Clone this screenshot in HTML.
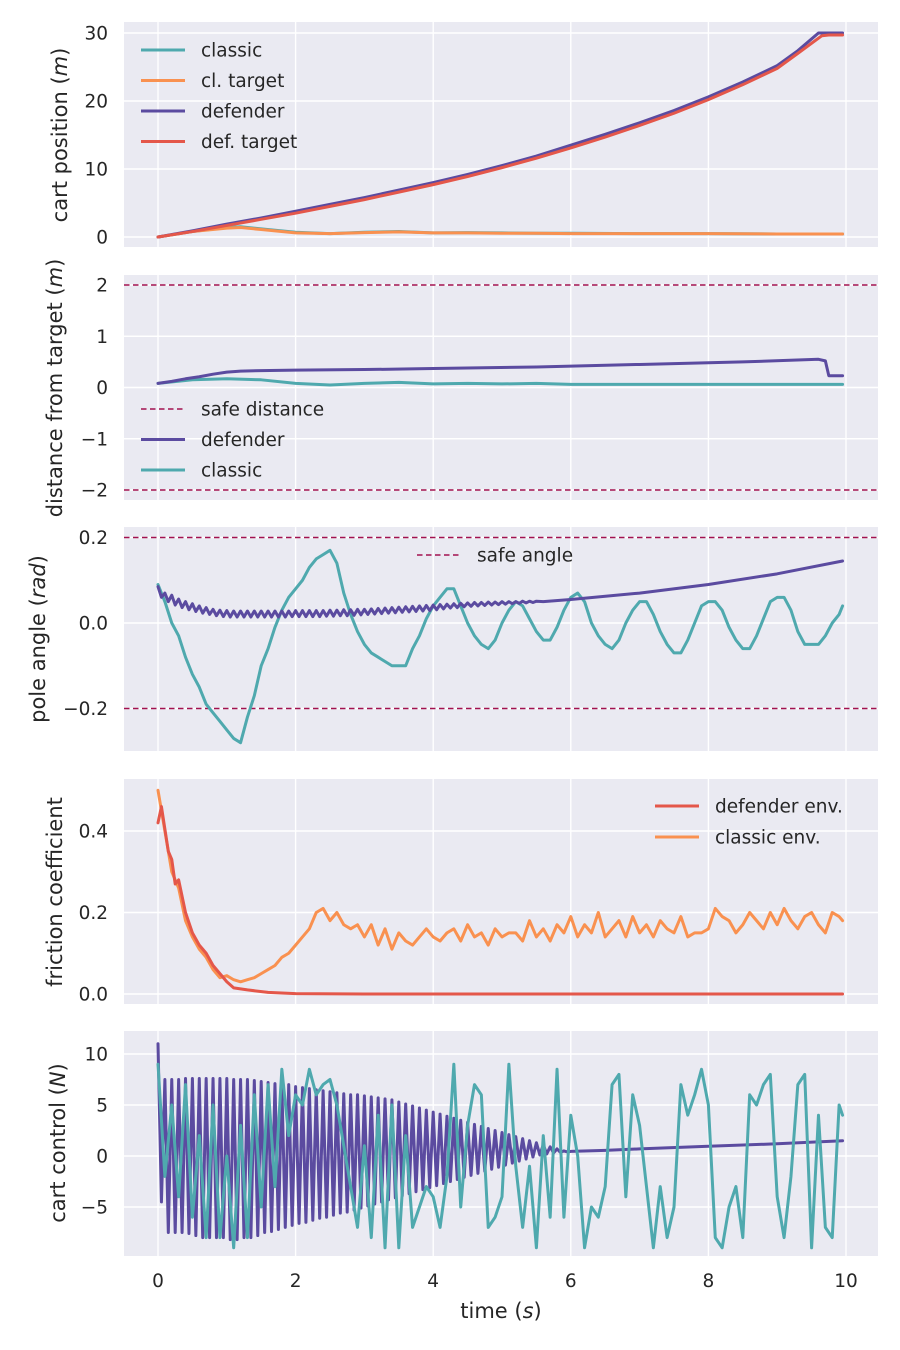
<!DOCTYPE html>
<html><head><meta charset="utf-8">
<style>
html,body{margin:0;padding:0;background:#fff;}
svg{display:block;font-family:"DejaVu Sans","Liberation Sans",sans-serif;}
</style></head>
<body>
<svg id="fig" width="900" height="1350" xmlns="http://www.w3.org/2000/svg"></svg>
<script>
// ---------- DATA ----------
const xTicks = [0,2,4,6,8,10];
// panel 1: cart position
const posDefT = [0,0.5,1,1.5,2,2.5,3,3.5,4,4.5,5,5.5,6,6.5,7,7.5,8,8.5,9,9.3,9.6,9.7,9.95];
const posDef  = [0,0.9,1.9,2.8,3.8,4.8,5.8,6.9,8.0,9.2,10.5,11.9,13.5,15.1,16.8,18.6,20.6,22.8,25.2,27.4,30.0,30.0,30.0];
const posDefTgtT = [0,0.5,1,1.5,2,2.5,3,3.5,4,4.5,5,5.5,6,6.5,7,7.5,8,8.5,9,9.3,9.65,9.75,9.95];
const posDefTgt  = [0,0.8,1.7,2.6,3.5,4.5,5.5,6.6,7.7,8.9,10.2,11.6,13.1,14.7,16.4,18.2,20.2,22.4,24.8,27.0,29.6,29.7,29.7];
const posClsT = [0,0.5,1,1.2,1.5,2,2.5,3,3.5,4,4.5,5,5.5,6,7,8,9,9.95];
const posCls  = [0,0.8,1.4,1.5,1.2,0.7,0.5,0.7,0.8,0.6,0.65,0.6,0.55,0.55,0.5,0.5,0.45,0.45];
const posClsTgt = [0,0.8,1.3,1.4,1.1,0.6,0.5,0.65,0.75,0.6,0.6,0.55,0.55,0.5,0.5,0.5,0.45,0.45];
// panel 2: distance from target
const distDefT = [0,0.2,0.4,0.6,0.8,1.0,1.2,1.5,2,3,4,5.5,7,8.5,9.6,9.7,9.75,9.95];
const distDef  = [0.08,0.12,0.17,0.21,0.26,0.3,0.32,0.33,0.34,0.35,0.37,0.4,0.45,0.5,0.55,0.52,0.23,0.23];
const distClsT = [0,0.5,1,1.5,2,2.5,3,3.5,4,4.5,5,5.5,6,7,8,9,9.95];
const distCls  = [0.08,0.15,0.17,0.15,0.08,0.05,0.08,0.1,0.07,0.08,0.07,0.08,0.06,0.06,0.06,0.06,0.06];
// panel 3: pole angle
const angCls = [0.09,0.05,0.0,-0.03,-0.08,-0.12,-0.15,-0.19,-0.21,-0.23,-0.25,-0.27,-0.28,-0.22,-0.17,-0.1,-0.06,-0.01,0.03,0.06,
0.08,0.1,0.13,0.15,0.16,0.17,0.14,0.07,0.02,-0.02,-0.05,-0.07,-0.08,-0.09,-0.1,-0.1,-0.1,-0.06,-0.03,0.01,
0.04,0.06,0.08,0.08,0.04,0.0,-0.03,-0.05,-0.06,-0.04,0.0,0.03,0.05,0.04,0.01,-0.02,-0.04,-0.04,-0.01,0.03,
0.06,0.07,0.05,0.0,-0.03,-0.05,-0.06,-0.04,0.0,0.03,0.05,0.05,0.02,-0.02,-0.05,-0.07,-0.07,-0.04,0.0,0.04,
0.05,0.05,0.03,-0.01,-0.04,-0.06,-0.06,-0.03,0.01,0.05,0.06,0.06,0.03,-0.02,-0.05,-0.05,-0.05,-0.03,0.0,0.02,0.04];
const angDefZig = [0.085,0.06,0.07,0.05,0.065,0.042,0.056,0.036,0.05,0.031,0.045,0.027,0.04,0.023,0.036,0.02,0.032,0.017,0.03,0.015,0.029,0.014,
0.028,0.014,0.028,0.014,0.028,0.014,0.028,0.014,0.028,0.014,0.028,0.014,0.028,0.014,0.028,0.014,0.028,0.015,0.029,0.015,0.029,0.015,0.029,0.015,0.029,0.015,0.029,0.016,
0.03,0.016,0.03,0.017,0.031,0.017,0.031,0.018,0.032,0.019,0.032,0.02,0.033,0.021,0.034,0.022,0.035,0.023,0.036,0.024,0.037,0.025,0.038,0.026,0.039,0.027,0.04,0.028,0.041,0.029,
0.042,0.031,0.043,0.033,0.044,0.035,0.045,0.036,0.046,0.038,0.047,0.039,0.048,0.04,0.048,0.041,0.049,0.042,0.049,0.043,0.05,0.044,0.05,0.045,0.05,0.046,0.051,0.047,0.051,0.048,0.051];
const angDefTailT = [5.6,6,7,8,9,9.95];
const angDefTail  = [0.05,0.055,0.07,0.09,0.115,0.145];
// panel 4: friction
const fricDefT = [0,0.05,0.15,0.2,0.25,0.3,0.4,0.5,0.6,0.7,0.8,0.9,1.0,1.1,1.3,1.6,2,3,9.95];
const fricDef  = [0.42,0.46,0.35,0.33,0.27,0.28,0.2,0.15,0.12,0.1,0.07,0.05,0.03,0.015,0.01,0.004,0.001,0,0];
const fricCls = [0.5,0.4,0.3,0.26,0.18,0.14,0.11,0.09,0.06,0.04,0.045,0.035,0.03,0.035,0.04,0.05,0.06,0.07,0.09,0.1,
0.12,0.14,0.16,0.2,0.21,0.18,0.2,0.17,0.16,0.17,0.14,0.17,0.12,0.16,0.11,0.15,0.13,0.12,0.14,0.16,
0.14,0.13,0.15,0.16,0.13,0.17,0.14,0.15,0.12,0.16,0.14,0.15,0.15,0.13,0.18,0.14,0.16,0.13,0.17,0.15,
0.19,0.14,0.17,0.15,0.2,0.14,0.16,0.18,0.14,0.19,0.15,0.17,0.14,0.18,0.16,0.15,0.19,0.14,0.15,0.15,
0.16,0.21,0.19,0.18,0.15,0.17,0.2,0.18,0.16,0.2,0.17,0.21,0.18,0.16,0.19,0.2,0.17,0.15,0.2,0.19,0.18];
// panel 5: control
const ctrlDefZig = [11,-4.5,7.5,-7.5,7.5,-7.5,7.5,-7.5,7.6,-7.6,7.6,-7.8,7.6,-8,7.6,-8,7.6,-8,7.6,-8,7.6,-8.2,7.5,-8.2,7.5,-8,7.5,-8,7.4,-7.8,
7.3,-7.5,7.2,-7.4,7.1,-7.2,7,-7,7,-6.8,6.8,-6.6,6.7,-6.5,6.6,-6.3,6.5,-6.1,6.4,-6,6.3,-5.8,6.2,-5.6,6.1,-5.5,6,-5.3,6,-5.1,
5.9,-4.9,5.8,-4.7,5.7,-4.5,5.6,-4.3,5.5,-4.1,5.3,-3.9,5.1,-3.7,4.9,-3.5,4.7,-3.3,4.5,-3.1,4.3,-2.9,4.1,-2.7,3.9,-2.5,3.7,-2.3,3.5,-2.1,
3.3,-1.9,3.1,-1.7,2.9,-1.5,2.7,-1.3,2.5,-1.1,2.3,-0.9,2.1,-0.7,1.9,-0.5,1.7,-0.3,1.5,-0.1,1.3,0.1,1.1,0.2,0.9,0.3,0.7,0.35,0.5,0.4,0.45];
const ctrlDefTailT = [6.5,7,8,9,9.95];
const ctrlDefTail  = [0.55,0.7,0.95,1.2,1.5];
const ctrlCls = [9,-2,5,-4,7,-6,2,-8,5,-8,0,-9,3,-8,6,-5,7,-3,8.5,2,
6,5,8.5,6,7,7.5,5,1,-3,-7,1,-8,4,-9,5,-9,2,-7,-5,-3,
-4,-7,-2,9,-5,3,7,6,-7,-6,-4,9,-1,-7,-1,-9,2,-6,8.5,-6,
4,0,-9,-5,-6,-3,7,8,-4,6,3,-3,-9,-3,-8,-5,7,4,6,8.5,
5,-8,-9,-5,-3,-8,6,5,7,8,-4,-8,-2,7,8,-9,4,-7,-8,5,4];

// ---------- helpers ----------
const svg = document.getElementById('fig');
const NS = 'http://www.w3.org/2000/svg';
function mk(tag, attrs, parent){ const e=document.createElementNS(NS,tag); for(const k in attrs) e.setAttribute(k,attrs[k]); (parent||svg).appendChild(e); return e; }
const X0=124, X1=878;
const TICK_FS=18.5, LAB_FS=21, LEG_FS=18.5, LW=3;
function sx(t){ return 158 + t*68.8; }
function stepT(n,dt,start){ const a=[]; for(let i=0;i<n;i++) a.push((start||0)+i*dt); return a; }
function txt(s){ return s.replace('-', '\u2212'); }

function panel(name, top, bottom, yPix, yTicks, yFmt, showX){
  const g = mk('g',{});
  
  
  const bg = mk('rect',{x:X0,y:top,width:X1-X0,height:bottom-top,fill:'#EAEAF2'},g);
  
  
  xTicks.forEach(t=>{ mk('line',{x1:sx(t),x2:sx(t),y1:top,y2:bottom,stroke:'#fff','stroke-width':1.4},g); });
  yTicks.forEach(v=>{
    const y=yPix(v);
    mk('line',{x1:X0,x2:X1,y1:y,y2:y,stroke:'#fff','stroke-width':1.4},g);
    const lab=mk('text',{x:108,y:y+6.5,'text-anchor':'end','font-size':TICK_FS,fill:'#262626'},g);
    lab.textContent=txt(yFmt(v));
    
    
  });
  if(showX){
    xTicks.forEach(t=>{
      const lab=mk('text',{x:sx(t),y:1287,'text-anchor':'middle','font-size':TICK_FS,fill:'#262626'},g);
      lab.textContent=String(t);
      
      
    });
  }
  const clipId='clip-'+name;
  const cp=mk('clipPath',{id:clipId},g); mk('rect',{x:X0,y:top,width:X1-X0,height:bottom-top},cp);
  const plot=mk('g',{'clip-path':'url(#'+clipId+')'},g);
  return {g,plot,yPix};
}
function line(p, ts, vs, color, name){
  const d = ts.map((t,i)=>(i?'L':'M')+sx(t).toFixed(2)+','+p.yPix(vs[i]).toFixed(2)).join('');
  const e = mk('path',{d:d,fill:'none',stroke:color,'stroke-width':LW,'stroke-linejoin':'round','stroke-linecap':'round'},p.plot);
  
  
  return e;
}
function hdash(p, v, name){
  const y=p.yPix(v);
  const e=mk('line',{x1:X0,x2:X1,y1:y,y2:y,stroke:'#A2114F','stroke-width':1.6,'stroke-dasharray':'5.5,3.5'},p.plot);
  
  
}
function legend(x, y, items, gap){
  items.forEach((it,i)=>{
    const yy=y+i*gap;
    const g=mk('g',{});
    
    
    const attrs={x1:x,x2:x+44,y1:yy,y2:yy,stroke:it[1],'stroke-width':it[2]?1.6:LW};
    if(it[2]) attrs['stroke-dasharray']='5.5,3.5';
    mk('line',attrs,g);
    const t=mk('text',{x:x+60,y:yy+6.5,'font-size':LEG_FS,fill:'#262626'},g);
    t.textContent=it[0];
  });
}
function ylabel(x, cy, html, name){
  const t=mk('text',{x:0,y:0,'text-anchor':'middle','font-size':LAB_FS,fill:'#262626',transform:'translate('+x+','+cy+') rotate(-90)'});
  t.innerHTML=html;
  
  
}
const TEAL='#4FA9AE', PURP='#5B4BA0', ORNG='#F99150', RED='#E4574A';

// ---------- panel 1 ----------
const p1=panel('cart-position-panel',22,247,v=>237-v*6.8,[0,10,20,30],v=>String(v));
line(p1,posClsT,posCls,TEAL,'classic-position-line');
line(p1,posClsT,posClsTgt,ORNG,'classic-target-line');
line(p1,posDefT,posDef,PURP,'defender-position-line');
line(p1,posDefTgtT,posDefTgt,RED,'defender-target-line');
legend(141,50,[['classic',TEAL],['cl. target',ORNG],['defender',PURP],['def. target',RED]],30.5);
ylabel(67,135,'cart position (<tspan font-style="italic">m</tspan>)','y-axis-title-position');

// ---------- panel 2 ----------
const p2=panel('distance-panel',275,500,v=>387.5-v*51.25,[-2,-1,0,1,2],v=>String(v));
hdash(p2,2,'safe-distance-upper');
hdash(p2,-2,'safe-distance-lower');
line(p2,distClsT,distCls,TEAL,'classic-distance-line');
line(p2,distDefT,distDef,PURP,'defender-distance-line');
legend(141,409,[['safe distance','#A2114F',true],['defender',PURP],['classic',TEAL]],30.5);
ylabel(62,388,'distance from target (<tspan font-style="italic">m</tspan>)','y-axis-title-distance');

// ---------- panel 3 ----------
const p3=panel('pole-angle-panel',527,751,v=>623-v*427.5,[-0.2,0,0.2],v=>v.toFixed(1));
hdash(p3,0.2,'safe-angle-upper');
hdash(p3,-0.2,'safe-angle-lower');
line(p3,stepT(angCls.length,0.1).map(t=>Math.min(t,9.95)),angCls,TEAL,'classic-angle-line');
line(p3,stepT(angDefZig.length,0.05).concat(angDefTailT),angDefZig.concat(angDefTail),PURP,'defender-angle-line');
legend(417,555,[['safe angle','#A2114F',true]],30);
ylabel(45,639,'pole angle (<tspan font-style="italic">rad</tspan>)','y-axis-title-angle');

// ---------- panel 4 ----------
const p4=panel('friction-panel',779,1004,v=>994-v*407.5,[0,0.2,0.4],v=>v.toFixed(1));
line(p4,stepT(fricCls.length,0.1).map(t=>Math.min(t,9.95)),fricCls,ORNG,'classic-friction-line');
line(p4,fricDefT,fricDef,RED,'defender-friction-line');
legend(655,806,[['defender env.',RED],['classic env.',ORNG]],31);
ylabel(62,892,'friction coefficient','y-axis-title-friction');

// ---------- panel 5 ----------
const p5=panel('control-panel',1031,1256,v=>1156-v*10.2,[-5,0,5,10],v=>String(v),true);
line(p5,stepT(ctrlDefZig.length,0.05).concat(ctrlDefTailT),ctrlDefZig.concat(ctrlDefTail),PURP,'defender-control-line');
line(p5,stepT(ctrlCls.length,0.1).map(t=>Math.min(t,9.95)),ctrlCls,TEAL,'classic-control-line');
ylabel(65,1143,'cart control (<tspan font-style="italic">N</tspan>)','y-axis-title-control');

const xl=mk('text',{x:501,y:1318,'text-anchor':'middle','font-size':LAB_FS,fill:'#262626'});
xl.innerHTML='time (<tspan font-style="italic">s</tspan>)';


</script>
</body></html>
